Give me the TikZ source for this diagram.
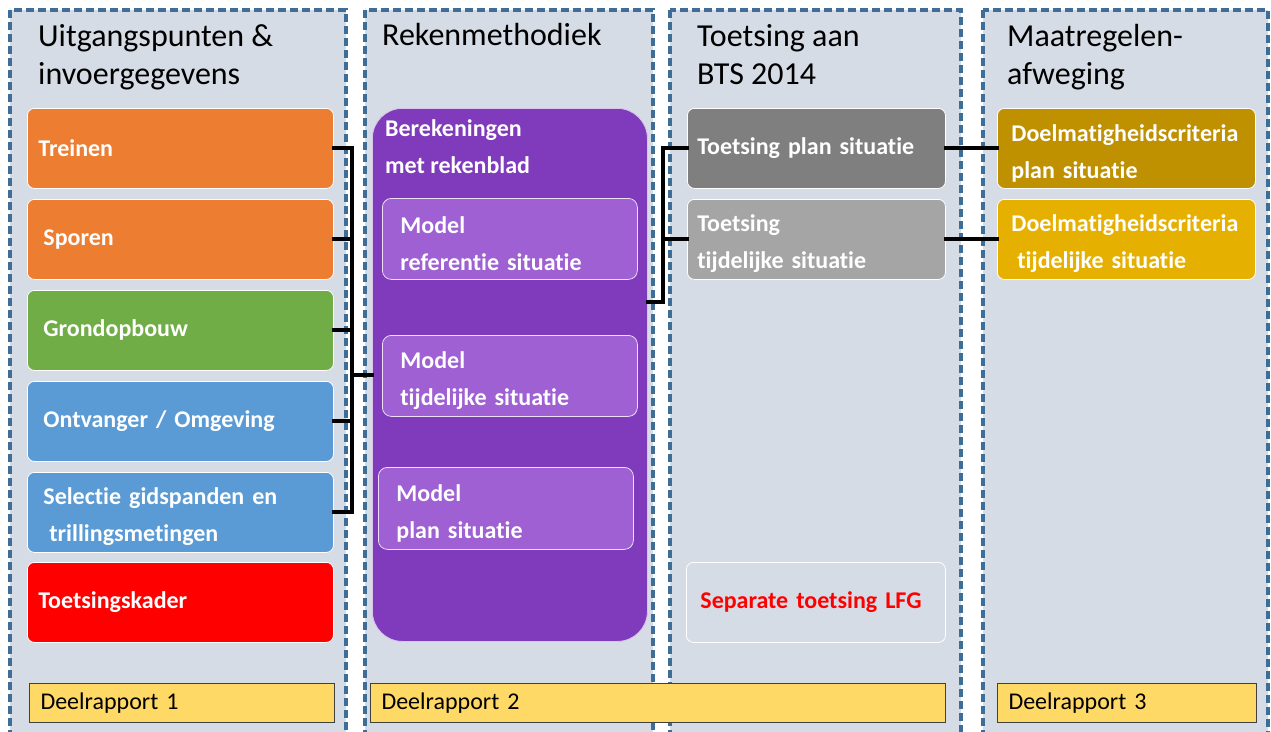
\documentclass[tikz,border=0pt]{standalone}
\usepackage{fontspec}
\setmainfont{Carlito}[Ligatures=CommonOff]
\definecolor{colbg}{HTML}{D6DCE5}
\definecolor{dashc}{HTML}{3E6D98}
\definecolor{cOrange}{HTML}{ED7D31}
\definecolor{cGreen}{HTML}{70AD47}
\definecolor{cBlue}{HTML}{5B9BD5}
\definecolor{cRed}{HTML}{FF0000}
\definecolor{cPurple}{HTML}{7F3BBB}
\definecolor{cPurpleL}{HTML}{9E60D2}
\definecolor{cDGray}{HTML}{7F7F7F}
\definecolor{cGray}{HTML}{A5A5A5}
\definecolor{cGoldD}{HTML}{BF9000}
\definecolor{cGold}{HTML}{E6B000}
\definecolor{cDeel}{HTML}{FFD966}
\newcommand{\bfbox}{\fontsize{24}{37}\selectfont\bfseries}
\newcommand{\ttlfont}{\fontsize{32}{38}\selectfont}
\newcommand{\deelfont}{\fontsize{24}{28}\selectfont}
\newcommand{\tstrut}{\rule{0pt}{26pt}}
\begin{document}
\begin{tikzpicture}[x=1pt,y=-1pt,
  column/.style={fill=colbg, draw=dashc, line width=3.2pt, dash pattern=on 8pt off 4pt},
  ttl/.style={anchor=north west, inner sep=0pt, align=left, font=\ttlfont, text=black},
  box/.style={anchor=north west, draw=white, line width=0.8pt, rounded corners=7pt, align=left, text=white, font=\bfbox, inner ysep=0pt},
  mbox/.style={box, fill=cPurpleL, draw=white!80!cPurpleL, rounded corners=9pt},
  deel/.style={anchor=north west, fill=cDeel, draw=black!75, line width=1pt, align=left, font=\deelfont, text=black, inner ysep=0pt, minimum height=39pt},
  conn/.style={draw=black, line width=4pt, line cap=rect}]
\clip (0,0) rectangle (1271,731);
\fill[white] (0,0) rectangle (1271,731);
% columns
\draw[column] (10,10) rectangle (346,760);
\draw[column] (365,10) rectangle (653,760);
\draw[column] (670,10) rectangle (961,760);
\draw[column] (983,10) rectangle (1268,760);
% titles
\node[ttl] (h1) at (38,24) {Uitgangspunten \&\\invoergegevens};
\node[ttl] (h2) at (382,23) {Rekenmethodiek};
\node[ttl] (h3) at (697,24) {Toetsing aan\\BTS 2014};
\node[ttl] (h4) at (1007,24) {Maatregelen-\\afweging};
% column 1 boxes
\node[box, fill=cOrange, minimum height=80pt, inner xsep=11pt, text width=284pt] (t1) at (27,108) {Treinen};
\node[box, fill=cOrange, minimum height=80pt, inner xsep=16pt, text width=274pt] (t2) at (27,199) {Sporen};
\node[box, fill=cGreen, minimum height=80pt, inner xsep=16pt, text width=274pt] (t3) at (27,290) {Grondopbouw};
\node[box, fill=cBlue, minimum height=80pt, inner xsep=16pt, text width=274pt] (t4) at (27,381) {Ontvanger / Omgeving};
\node[box, fill=cBlue, minimum height=80pt, inner xsep=16pt, text width=274pt] (t5) at (27,472) {\tstrut Selectie gidspanden en\\\hspace*{6pt}trillingsmetingen};
\node[box, fill=cRed, minimum height=80pt, inner xsep=11pt, text width=284pt] (t6) at (27,562) {Toetsingskader};
% column 2
\node[box, fill=cPurple, draw=white!70!cPurple, rounded corners=30pt, minimum height=533pt, inner xsep=0pt, text width=275pt] (calc) at (372,108) {};
\node[anchor=north west, inner sep=0pt, align=left, text=white, font=\bfbox] (calct) at (385,119) {Berekeningen\\met rekenblad};
\node[mbox, minimum height=81pt, inner xsep=18pt, text width=219pt] (m1) at (382,198) {\tstrut Model\\referentie situatie};
\node[mbox, minimum height=81pt, inner xsep=18pt, text width=219pt] (m2) at (382,335) {\tstrut Model\\tijdelijke situatie};
\node[mbox, minimum height=82pt, inner xsep=18pt, text width=219pt] (m3) at (378,467) {\tstrut Model\\plan situatie};
% column 3
\node[box, fill=cDGray, minimum height=80pt, inner xsep=10pt, text width=238pt] (tp) at (687,108) {Toetsing plan situatie};
\node[box, fill=cGray, minimum height=80pt, inner xsep=10pt, text width=238pt] (tt) at (687,199) {\tstrut Toetsing\\tijdelijke situatie};
\node[box, fill=colbg, minimum height=80pt, inner xsep=14pt, text width=231pt, text=cRed] (lfg) at (686,562) {Separate toetsing LFG};
% column 4
\node[box, fill=cGoldD, minimum height=80pt, inner xsep=14pt, text width=230pt] (dp) at (997,108) {\tstrut Doelmatigheidscriteria\\plan situatie};
\node[box, fill=cGold, minimum height=80pt, inner xsep=14pt, text width=230pt] (dt) at (997,199) {\tstrut Doelmatigheidscriteria\\\hspace*{6pt}tijdelijke situatie};
% deelrapporten
\node[deel, inner xsep=11pt, text width=283pt] (d1) at (29,683) {Deelrapport 1};
\node[deel, inner xsep=11pt, text width=553pt] (d2) at (370,683) {Deelrapport 2};
\node[deel, inner xsep=11pt, text width=237pt] (d3) at (997,683) {Deelrapport 3};
% connectors
\coordinate (bl) at (352,375);
\coordinate (cr) at (663,302);
\draw[conn] (t1.east) -- (t1.east -| bl) -- (t5.east -| bl) -- (t5.east);
\draw[conn] (t2.east) -- (t2.east -| bl);
\draw[conn] (t3.east) -- (t3.east -| bl);
\draw[conn] (t4.east) -- (t4.east -| bl);
\draw[conn] (calc.west |- bl) -- (bl);
\draw[conn] (calc.east |- cr) -- (cr) -- (cr |- tp.west) -- (tp.west);
\draw[conn] (tt.west) -- (tt.west -| cr);
\draw[conn] (tp.east) -- (dp.west);
\draw[conn] (tt.east) -- (dt.west);
\end{tikzpicture}
\end{document}
